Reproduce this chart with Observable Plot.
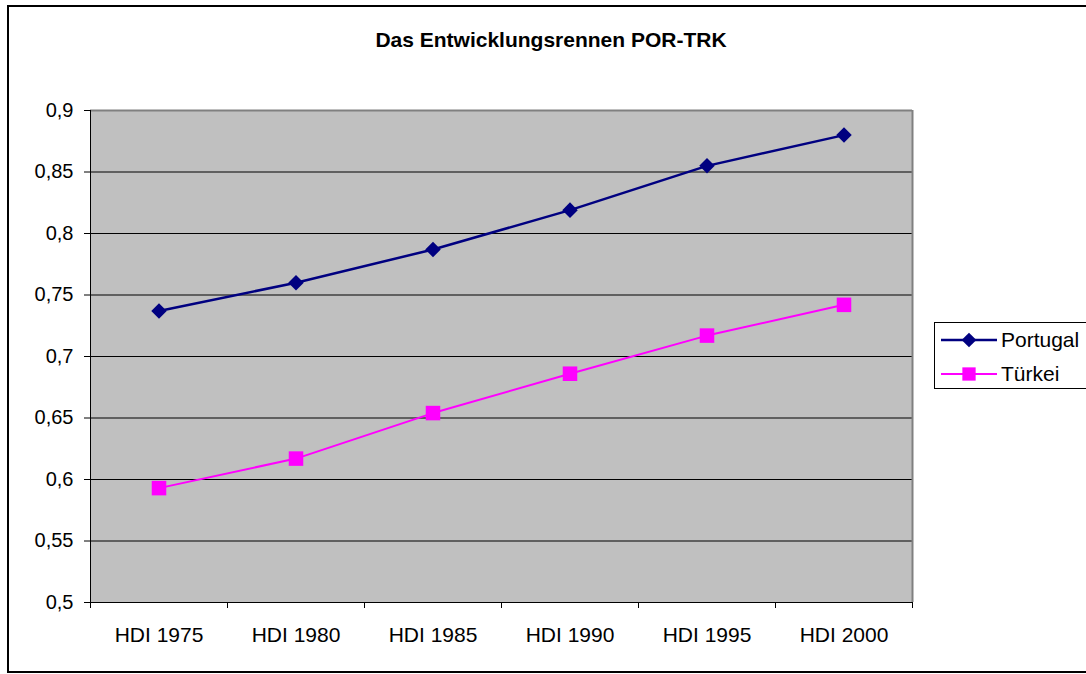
<!DOCTYPE html>
<html>
<head>
<meta charset="utf-8">
<script src="https://cdn.jsdelivr.net/npm/d3@7"></script>
<script src="https://cdn.jsdelivr.net/npm/@observablehq/plot@0.6"></script>
<style>
  html, body { margin: 0; padding: 0; background: #fff; overflow: hidden; }
  #wrap { position: relative; width: 1086px; height: 674px; overflow: hidden; font-family: "Liberation Sans", Arial, sans-serif; }
  #box { position: absolute; left: 7px; top: 5px; width: 1110px; height: 668px; box-sizing: border-box; border: 2px solid #000; }
  #title { position: absolute; left: 0; width: 1102px; top: 28px; text-align: center; font-weight: bold; font-size: 21px; line-height: 23px; color: #000; }
  #chart { position: absolute; left: 0; top: 0; }
  #legend { position: absolute; left: 934px; top: 322px; width: 160px; height: 67px; box-sizing: border-box; border: 1px solid #000; background: #fff; }
  .row { position: absolute; left: 0; height: 30px; display: flex; align-items: center; font-size: 21px; color: #000; }
  .row svg { display: block; margin-left: 6px; margin-right: 4px; }
</style>
</head>
<body>
<div id="wrap">
  <div id="box"></div>
  <div id="title">Das Entwicklungsrennen POR-TRK</div>
  <div id="chart"></div>
  <div id="legend"></div>
</div>
<script>
const categories = ["HDI 1975", "HDI 1980", "HDI 1985", "HDI 1990", "HDI 1995", "HDI 2000"];
const portugal = [0.737, 0.760, 0.787, 0.819, 0.855, 0.880];
const tuerkei  = [0.593, 0.617, 0.654, 0.686, 0.717, 0.742];
const seriesNames = ["Portugal", "Türkei"];
const seriesColors = ["#000080", "#FF00FF"];
const yTicks = [0.5, 0.55, 0.6, 0.65, 0.7, 0.75, 0.8, 0.85, 0.9];

const rows = [];
categories.forEach((c, i) => {
  rows.push({pos: i + 0.5, value: portugal[i], series: seriesNames[0]});
  rows.push({pos: i + 0.5, value: tuerkei[i], series: seriesNames[1]});
});
const por = rows.filter(d => d.series === seriesNames[0]);
const trk = rows.filter(d => d.series === seriesNames[1]);
const bounds = d3.range(0, categories.length + 1);
const centers = categories.map((c, i) => i + 0.5);
const fmt = d => String(+d.toFixed(2)).replace(".", ",");

const chart = Plot.plot({
  width: 1086,
  height: 674,
  marginLeft: 90,
  marginRight: 174,
  marginTop: 110,
  marginBottom: 72,
  style: {fontFamily: "'Liberation Sans', Arial, sans-serif", fontSize: "20px", background: "transparent", color: "#000"},
  x: {type: "linear", domain: [0, categories.length]},
  y: {domain: [0.5, 0.9]},
  marks: [
    Plot.frame({fill: "#C0C0C0", stroke: "none"}),
    Plot.ruleY(yTicks.slice(1, -1), {stroke: "#000", strokeWidth: 1}),
    Plot.ruleY([0.9], {stroke: "#808080", strokeWidth: 2}),
    Plot.ruleX([categories.length], {stroke: "#808080", strokeWidth: 2}),
    Plot.ruleX([0], {stroke: "#000", strokeWidth: 1}),
    Plot.ruleY([0.5], {stroke: "#000", strokeWidth: 1}),
    Plot.axisY({ticks: yTicks, tickSize: 6, tickPadding: 11, tickFormat: fmt, label: null, stroke: "#000", fill: "#000", fontSize: 20}),
    Plot.axisX({ticks: bounds, tickSize: 6, tickFormat: () => "", label: null, stroke: "#000"}),
    Plot.axisX({ticks: centers, tickSize: 0, tickPadding: 25, tickFormat: v => categories[Math.floor(v)], label: null, fill: "#000", fontSize: 21}),
    Plot.line(por, {x: "pos", y: "value", stroke: seriesColors[0], strokeWidth: 2.5}),
    Plot.line(trk, {x: "pos", y: "value", stroke: seriesColors[1], strokeWidth: 2}),
    Plot.dot(por, {x: "pos", y: "value", symbol: "diamond2", r: 7, fill: seriesColors[0], stroke: "none"}),
    Plot.dot(trk, {x: "pos", y: "value", symbol: "square", r: 8.2, fill: seriesColors[1], stroke: "none"})
  ]
});
document.getElementById("chart").appendChild(chart);

// legend
const legend = d3.select("#legend");
const symbols = [d3.symbolDiamond2, d3.symbolSquare];
const sizes = [Math.PI * 7 * 7 * 0.9, Math.PI * 7.5 * 7.5];
const widths = [2.5, 2];
seriesNames.forEach((name, i) => {
  const row = legend.append("div").attr("class", "row").style("top", (i === 0 ? 2 : 36) + "px");
  const svg = row.append("svg").attr("width", 56).attr("height", 30);
  svg.append("line").attr("x1", 0).attr("x2", 56).attr("y1", 15).attr("y2", 15)
    .attr("stroke", seriesColors[i]).attr("stroke-width", widths[i]);
  svg.append("path").attr("transform", "translate(28,15)")
    .attr("d", d3.symbol(symbols[i], sizes[i])()).attr("fill", seriesColors[i]);
  row.append("span").text(name);
});
</script>
</body>
</html>
